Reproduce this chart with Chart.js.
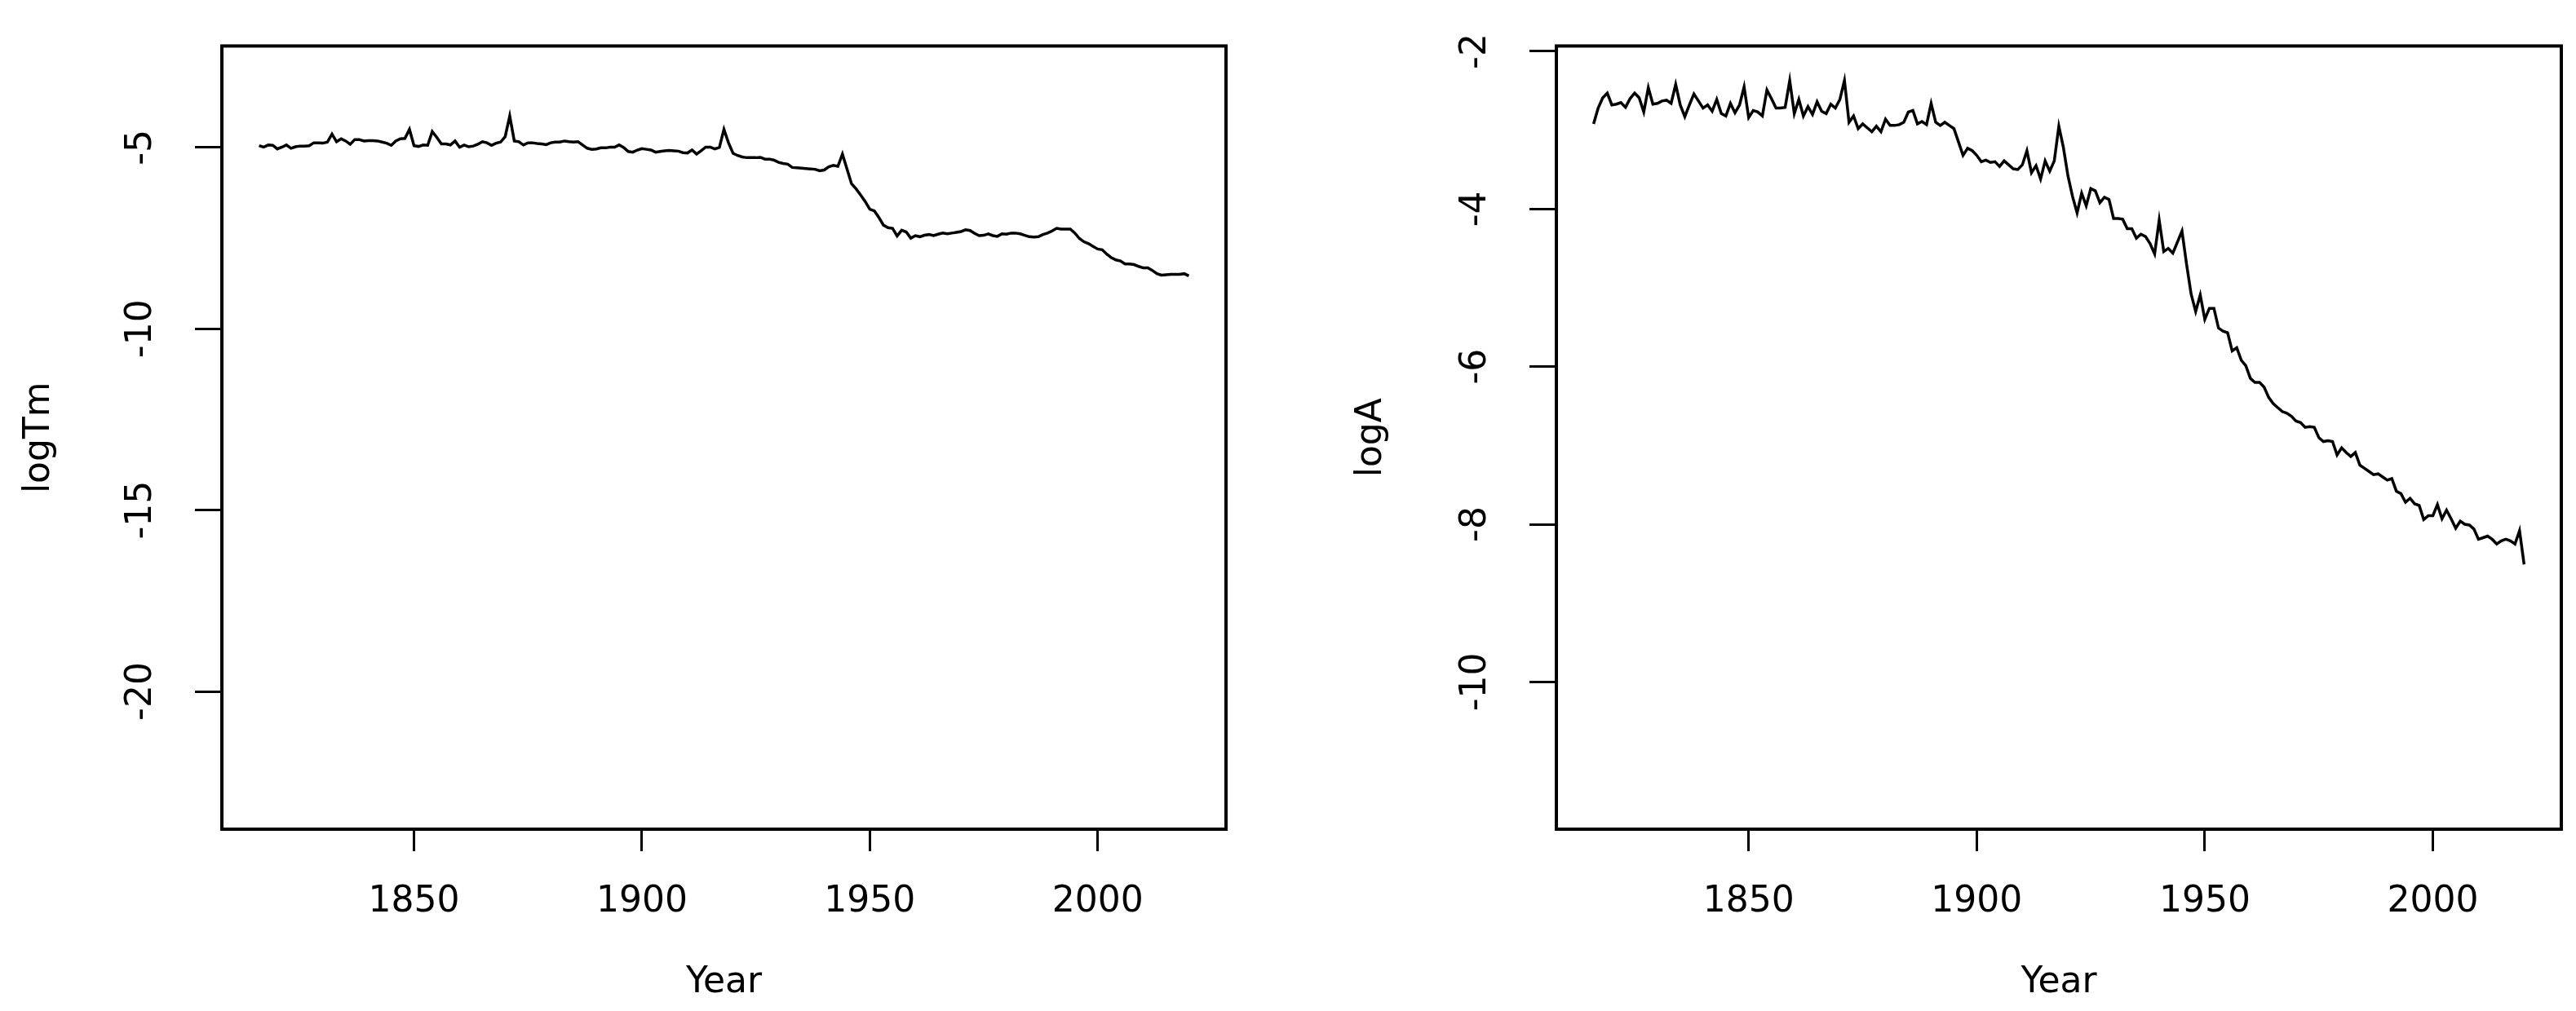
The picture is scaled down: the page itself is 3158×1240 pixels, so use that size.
<!DOCTYPE html>
<html>
<head>
<meta charset="utf-8">
<script src="https://cdn.jsdelivr.net/npm/chart.js@4.4.0/dist/chart.umd.min.js"></script>
<style>
html, body { margin: 0; padding: 0; background: #fff; }
#wrap { position: relative; width: 3158px; height: 1240px; }
.panel { position: absolute; top: 0; width: 1579px; height: 1240px; }
</style>
</head>
<body>
<div id="wrap">
  <div class="panel" style="left:0"><canvas id="chartTm" width="1579" height="1240"></canvas></div>
  <div class="panel" style="left:1579px"><canvas id="chartA" width="1579" height="1240"></canvas></div>
</div>
<script>
var years = [
  1816, 1817, 1818, 1819, 1820, 1821, 1822, 1823, 1824, 1825,
  1826, 1827, 1828, 1829, 1830, 1831, 1832, 1833, 1834, 1835,
  1836, 1837, 1838, 1839, 1840, 1841, 1842, 1843, 1844, 1845,
  1846, 1847, 1848, 1849, 1850, 1851, 1852, 1853, 1854, 1855,
  1856, 1857, 1858, 1859, 1860, 1861, 1862, 1863, 1864, 1865,
  1866, 1867, 1868, 1869, 1870, 1871, 1872, 1873, 1874, 1875,
  1876, 1877, 1878, 1879, 1880, 1881, 1882, 1883, 1884, 1885,
  1886, 1887, 1888, 1889, 1890, 1891, 1892, 1893, 1894, 1895,
  1896, 1897, 1898, 1899, 1900, 1901, 1902, 1903, 1904, 1905,
  1906, 1907, 1908, 1909, 1910, 1911, 1912, 1913, 1914, 1915,
  1916, 1917, 1918, 1919, 1920, 1921, 1922, 1923, 1924, 1925,
  1926, 1927, 1928, 1929, 1930, 1931, 1932, 1933, 1934, 1935,
  1936, 1937, 1938, 1939, 1940, 1941, 1942, 1943, 1944, 1945,
  1946, 1947, 1948, 1949, 1950, 1951, 1952, 1953, 1954, 1955,
  1956, 1957, 1958, 1959, 1960, 1961, 1962, 1963, 1964, 1965,
  1966, 1967, 1968, 1969, 1970, 1971, 1972, 1973, 1974, 1975,
  1976, 1977, 1978, 1979, 1980, 1981, 1982, 1983, 1984, 1985,
  1986, 1987, 1988, 1989, 1990, 1991, 1992, 1993, 1994, 1995,
  1996, 1997, 1998, 1999, 2000, 2001, 2002, 2003, 2004, 2005,
  2006, 2007, 2008, 2009, 2010, 2011, 2012, 2013, 2014, 2015,
  2016, 2017, 2018, 2019, 2020
];

var logTm = [
  -4.95, -4.99, -4.93, -4.94, -5.04, -4.99, -4.93, -5.02, -4.98, -4.96,
  -4.96, -4.95, -4.87, -4.87, -4.88, -4.85, -4.63, -4.84, -4.76, -4.82,
  -4.91, -4.78, -4.78, -4.82, -4.81, -4.81, -4.82, -4.85, -4.88, -4.94,
  -4.82, -4.76, -4.75, -4.50, -4.95, -4.97, -4.93, -4.94, -4.56, -4.72,
  -4.90, -4.90, -4.93, -4.82, -4.99, -4.93, -4.98, -4.96, -4.91, -4.84,
  -4.87, -4.94, -4.88, -4.85, -4.70, -4.13, -4.82, -4.84, -4.93, -4.87,
  -4.87, -4.89, -4.90, -4.92, -4.87, -4.85, -4.85, -4.82, -4.84, -4.85,
  -4.84, -4.93, -5.02, -5.05, -5.04, -5.01, -5.01, -4.99, -4.99, -4.93,
  -5.00, -5.11, -5.13, -5.07, -5.03, -5.05, -5.07, -5.13, -5.11, -5.09,
  -5.08, -5.09, -5.10, -5.14, -5.15, -5.07, -5.18, -5.09, -4.99, -4.99,
  -5.04, -5.00, -4.50, -4.87, -5.16, -5.22, -5.26, -5.28, -5.28, -5.28,
  -5.27, -5.32, -5.32, -5.35, -5.41, -5.44, -5.46, -5.55, -5.56, -5.57,
  -5.58, -5.59, -5.60, -5.64, -5.62, -5.53, -5.49, -5.52, -5.18, -5.59,
  -6.00, -6.14, -6.31, -6.49, -6.70, -6.75, -6.93, -7.14, -7.21, -7.23,
  -7.44, -7.28, -7.33, -7.50, -7.43, -7.46, -7.42, -7.40, -7.43, -7.39,
  -7.36, -7.38, -7.36, -7.34, -7.32, -7.27, -7.29, -7.37, -7.43, -7.42,
  -7.38, -7.43, -7.45, -7.38, -7.39, -7.36, -7.36, -7.38, -7.42, -7.46,
  -7.47, -7.46, -7.40, -7.36, -7.30, -7.23, -7.25, -7.25, -7.25, -7.36,
  -7.51, -7.60, -7.65, -7.73, -7.80, -7.82, -7.94, -8.04, -8.10, -8.13,
  -8.21, -8.21, -8.23, -8.28, -8.32, -8.32, -8.39, -8.48, -8.52, -8.51,
  -8.50, -8.50, -8.50, -8.48, -8.54
];

var logA = [
  -2.92, -2.72, -2.59, -2.53, -2.68, -2.67, -2.65, -2.71, -2.60, -2.53,
  -2.59, -2.77, -2.46, -2.67, -2.66, -2.63, -2.62, -2.66, -2.42, -2.68,
  -2.83, -2.68, -2.54, -2.63, -2.72, -2.68, -2.76, -2.61, -2.79, -2.82,
  -2.66, -2.78, -2.68, -2.45, -2.84, -2.75, -2.77, -2.82, -2.49, -2.60,
  -2.72, -2.72, -2.71, -2.37, -2.79, -2.61, -2.82, -2.70, -2.80, -2.64,
  -2.76, -2.79, -2.67, -2.72, -2.61, -2.37, -2.90, -2.82, -2.98, -2.92,
  -2.97, -3.02, -2.95, -3.02, -2.86, -2.94, -2.94, -2.93, -2.90, -2.77,
  -2.75, -2.92, -2.89, -2.93, -2.66, -2.90, -2.94, -2.90, -2.94, -2.98,
  -3.15, -3.32, -3.23, -3.26, -3.32, -3.40, -3.38, -3.41, -3.40, -3.46,
  -3.39, -3.44, -3.49, -3.50, -3.44, -3.26, -3.54, -3.45, -3.62, -3.39,
  -3.52, -3.39, -2.95, -3.22, -3.58, -3.84, -4.05, -3.80, -3.96, -3.74,
  -3.77, -3.92, -3.85, -3.88, -4.12, -4.12, -4.13, -4.25, -4.25, -4.37,
  -4.32, -4.35, -4.44, -4.57, -4.14, -4.54, -4.50, -4.56, -4.42, -4.28,
  -4.70, -5.08, -5.30, -5.09, -5.40, -5.26, -5.26, -5.51, -5.55, -5.57,
  -5.80, -5.76, -5.92, -5.99, -6.15, -6.20, -6.20, -6.26, -6.39, -6.47,
  -6.52, -6.57, -6.59, -6.63, -6.69, -6.71, -6.77, -6.76, -6.77, -6.90,
  -6.95, -6.94, -6.95, -7.12, -7.03, -7.09, -7.14, -7.09, -7.25, -7.29,
  -7.33, -7.37, -7.36, -7.40, -7.44, -7.42, -7.58, -7.61, -7.72, -7.67,
  -7.74, -7.76, -7.94, -7.89, -7.89, -7.75, -7.93, -7.82, -7.93, -8.05,
  -7.96, -8.00, -8.01, -8.06, -8.19, -8.17, -8.15, -8.19, -8.25, -8.21,
  -8.19, -8.21, -8.25, -8.08, -8.51
];

var yearTicks = [1850, 1900, 1950, 2000];
var tmTicks = [-20, -15, -10, -5];
var aTicks = [-10, -8, -6, -4, -2];

Chart.defaults.font.family = "'DejaVu Sans', sans-serif";
Chart.defaults.font.size = 44;
Chart.defaults.color = '#000';

// R style frame around the plotting region
var boxPlugin = {
    id: 'box',
    afterDatasetsDraw: function(chart) {
        var a = chart.chartArea;
        var ctx = chart.ctx;
        ctx.save();
        ctx.strokeStyle = '#000';
        ctx.lineWidth = 4;
        ctx.strokeRect(a.left, a.top, a.right - a.left, a.bottom - a.top);
        ctx.restore();
    }
};

function toPoints(values) {
    var pts = [];
    for (var i = 0; i < values.length; i++) {
        pts.push({ x: years[i], y: values[i] });
    }
    return pts;
}

function makeConfig(values, yMin, yMax, yTicks, yTitle, yWidth, padRight, titlePad) {
    return {
        type: 'line',
        data: {
            datasets: [{
                data: toPoints(values),
                borderColor: '#000',
                borderWidth: 3.5,
                pointRadius: 0,
                tension: 0,
                fill: false
            }]
        },
        options: {
            responsive: false,
            animation: false,
            events: [],
            layout: { padding: { top: 41, right: padRight, left: 0, bottom: 0 } },
            plugins: { legend: { display: false }, tooltip: { enabled: false } },
            scales: {
                x: {
                    type: 'linear',
                    min: 1807.84,
                    max: 2028.16,
                    afterBuildTicks: function(s) { s.ticks = yearTicks.map(function(v) { return { value: v }; }); },
                    afterFit: function(s) { s.height = 223; },
                    border: { display: false },
                    grid: { drawOnChartArea: false, drawTicks: true, tickLength: 27, lineWidth: 3, color: '#000' },
                    ticks: { autoSkip: false, maxRotation: 0, padding: 36, callback: function(v) { return String(v); } },
                    title: { display: true, text: 'Year', padding: { top: 0, bottom: 8 } }
                },
                y: {
                    type: 'linear',
                    min: yMin,
                    max: yMax,
                    afterBuildTicks: function(s) { s.ticks = yTicks.map(function(v) { return { value: v }; }); },
                    afterFit: function(s) { s.width = yWidth; },
                    border: { display: false },
                    grid: { drawOnChartArea: false, drawTicks: true, tickLength: 33, lineWidth: 3, color: '#000' },
                    ticks: { minRotation: 90, maxRotation: 90, crossAlign: 'center', padding: 30, callback: function(v) { return String(v); } },
                    title: { display: true, text: yTitle, padding: { top: titlePad, bottom: 0 } }
                }
            }
        },
        plugins: [boxPlugin]
    };
}

var chartTm = new Chart(document.getElementById('chartTm'), makeConfig(logTm, -23.8, -2.2, tmTicks, 'logTm', 272, 76, 22));
var chartA = new Chart(document.getElementById('chartA'), makeConfig(logA, -11.868, -1.932, aTicks, 'logA', 329, 18, 76));
</script>
</body>
</html>
